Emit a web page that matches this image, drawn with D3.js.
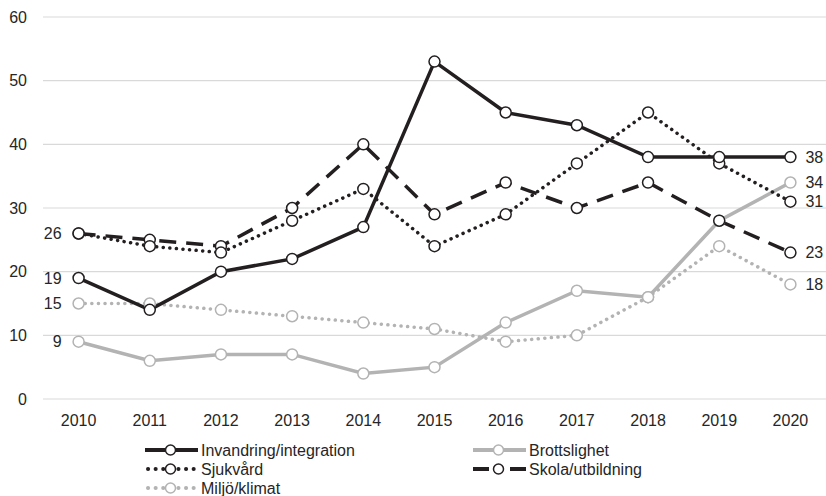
<!DOCTYPE html>
<html lang="en">
  <head>
    <meta charset="utf-8" />
    <title>Viktigaste frågor</title>
    <style>
      body { margin: 0; background: #fff; }
      svg text { font-family: "Liberation Sans", Arial, sans-serif; fill: #262626; }
    </style>
  </head>
  <body>
    <div id="chart"></div>
    <script src="https://d3js.org/d3.v7.min.js"></script>
    <script>
      // data
      const years = ["2010","2011","2012","2013","2014","2015","2016","2017","2018","2019","2020"];
      const invandring = [19,14,20,22,27,53,45,43,38,38,38];
      const brott = [9,6,7,7,4,5,12,17,16,28,34];
      const sjukvard = [26,24,23,28,33,24,29,37,45,37,31];
      const skola = [26,25,24,30,40,29,34,30,34,28,23];
      const miljo = [15,15,14,13,12,11,9,10,16,24,18];
      const yTicks = [0,10,20,30,40,50,60];

      const black = "#231f20", grey = "#b3b3b3";
      const series = [
        { name: "Invandring/integration", values: invandring, color: black, dash: null, startLabel: true },
        { name: "Brottslighet", values: brott, color: grey, dash: null, startLabel: true },
        { name: "Sjukvård", values: sjukvard, color: black, dash: "0.1 6.5", startLabel: false },
        { name: "Skola/utbildning", values: skola, color: black, dash: "17 10", startLabel: true },
        { name: "Miljö/klimat", values: miljo, color: grey, dash: "0.1 6.5", startLabel: true }
      ];

      const width = 826, height = 496;
      const mLeft = 43, mRight = 826, mTop = 17, mBottom = 399;
      const fs = "16px";

      const svg = d3.select("#chart").append("svg")
        .attr("width", width).attr("height", height);

      const x = d3.scaleBand().domain(years).range([mLeft, mRight]);
      const y = d3.scaleLinear().domain([0, 60]).range([mBottom, mTop]);
      const cx = d => x(d) + x.bandwidth() / 2;

      // grid
      svg.append("g").selectAll("line").data(yTicks).enter().append("line")
        .attr("x1", mLeft).attr("x2", mRight)
        .attr("y1", d => y(d)).attr("y2", d => y(d))
        .attr("stroke", "#d9d9d9").attr("stroke-width", 1.2);

      const yAxis = svg.append("g").attr("transform", `translate(${mLeft},0)`)
        .call(d3.axisLeft(y).tickValues(yTicks).tickSize(0).tickPadding(16));
      yAxis.select(".domain").remove();
      yAxis.selectAll("text").style("font-size", fs);

      const xAxis = svg.append("g").attr("transform", `translate(0,${mBottom})`)
        .call(d3.axisBottom(x).tickSize(0).tickPadding(16));
      xAxis.select(".domain").remove();
      xAxis.selectAll("text").style("font-size", fs);

      const line = d3.line().x((d, i) => cx(years[i])).y(d => y(d));
      const isDot = s => s.dash && s.dash.startsWith("0.1");

      // draw order: grey lines first
      const order = [4, 1, 3, 2, 0];
      order.forEach(k => {
        const s = series[k];
        svg.append("path").datum(s.values)
          .attr("d", line)
          .attr("fill", "none")
          .attr("stroke", s.color)
          .attr("stroke-width", 3.5)
          .attr("stroke-linecap", isDot(s) ? "round" : "butt")
          .attr("stroke-dasharray", s.dash);
      });
      order.forEach(k => {
        const s = series[k];
        svg.append("g").selectAll("circle").data(s.values).enter().append("circle")
          .attr("cx", (d, i) => cx(years[i]))
          .attr("cy", d => y(d))
          .attr("r", 5.5)
          .attr("fill", "#fff")
          .attr("stroke", s.color)
          .attr("stroke-width", 1.5);
      });

      // value labels
      series.forEach(s => {
        if (s.startLabel) {
          svg.append("text")
            .attr("x", cx(years[0]) - 17).attr("y", y(s.values[0]))
            .attr("dy", "0.35em").attr("text-anchor", "end")
            .style("font-size", fs).text(s.values[0]);
        }
        const last = s.values[s.values.length - 1];
        svg.append("text")
          .attr("x", cx(years[years.length - 1]) + 15).attr("y", y(last))
          .attr("dy", "0.35em").attr("text-anchor", "start")
          .style("font-size", fs).text(last);
      });

      // legend
      const legendPos = [[145, 450], [473, 450], [145, 469], [473, 469], [145, 488]];
      series.forEach((s, j) => {
        const [lx, ly] = legendPos[j];
        const g = svg.append("g").attr("transform", `translate(${lx},${ly})`);
        let dash = null;
        if (isDot(s)) dash = "0.1 7.5";
        else if (s.dash) dash = "16 21 16";
        g.append("line").attr("x1", 0).attr("x2", 53).attr("y1", 0).attr("y2", 0)
          .attr("stroke", s.color).attr("stroke-width", 4)
          .attr("stroke-linecap", isDot(s) ? "round" : "butt")
          .attr("stroke-dasharray", dash)
          .attr("stroke-dashoffset", isDot(s) ? -3 : 0);
        g.append("circle").attr("cx", 25.5).attr("cy", 0).attr("r", 5)
          .attr("fill", "#fff").attr("stroke", s.color).attr("stroke-width", 1.5);
        g.append("text").attr("x", 56).attr("y", 0).attr("dy", "0.35em")
          .style("font-size", fs).text(s.name);
      });
    </script>
  </body>
</html>
